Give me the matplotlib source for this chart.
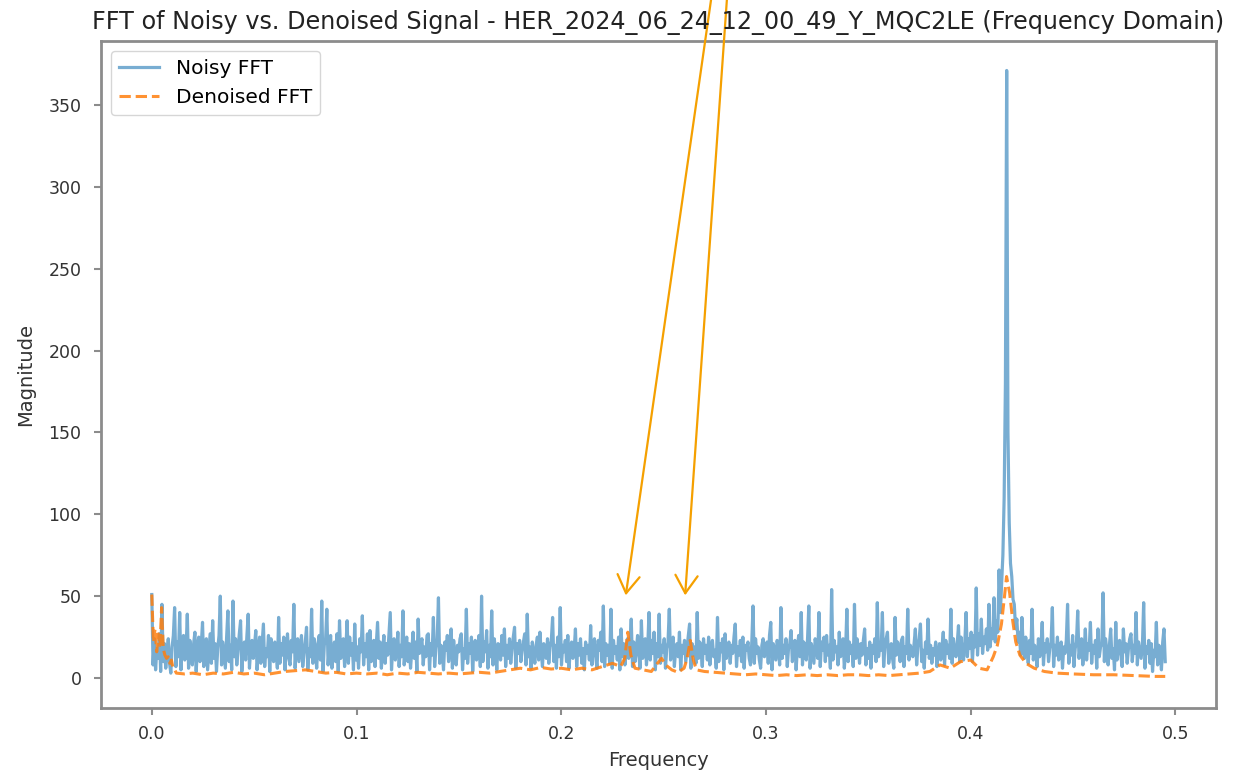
import numpy as np
import matplotlib
matplotlib.use("Agg")
import matplotlib.pyplot as plt

title = "FFT of Noisy vs. Denoised Signal - HER_2024_06_24_12_00_49_Y_MQC2LE (Frequency Domain)"
f_max = 0.495

noisy_mag = [
    51, 8, 24, 5, 18, 12, 27, 4, 45, 10, 21, 6, 16, 24, 9, 3, 19, 26, 43, 7,
    22, 13, 40, 5, 20, 26, 11, 17, 39, 6, 23, 15, 8, 21, 28, 4, 18, 25, 10, 20,
    34, 7, 19, 24, 5, 16, 27, 9, 35, 12, 21, 4, 18, 26, 50, 8, 22, 14, 6, 25,
    41, 10, 20, 5, 47, 13, 24, 8, 17, 27, 35, 4, 19, 22, 11, 26, 39, 6, 18, 23,
    12, 20, 29, 5, 16, 25, 9, 21, 33, 7, 18, 13, 26, 4, 24, 15, 10, 22, 17, 6,
    37, 9, 21, 14, 25, 5, 19, 27, 12, 8, 23, 16, 45, 6, 20, 24, 10, 18, 26, 7,
    15, 22, 31, 5, 18, 13, 42, 9, 24, 17, 6, 21, 26, 11, 47, 4, 20, 23, 42, 8,
    19, 26, 6, 15, 22, 10, 27, 4, 35, 12, 20, 24, 7, 18, 35, 9, 25, 14, 21, 5,
    33, 11, 19, 6, 24, 16, 38, 8, 21, 13, 27, 5, 29, 10, 18, 23, 7, 20, 34, 12,
    22, 6, 17, 26, 9, 21, 14, 27, 40, 5, 19, 24, 11, 16, 28, 7, 20, 13, 41, 8,
    18, 25, 10, 21, 6, 17, 28, 12, 22, 4, 36, 15, 20, 24, 8, 19, 13, 26, 27, 5,
    21, 14, 37, 7, 18, 24, 49, 9, 20, 15, 5, 22, 17, 26, 10, 19, 30, 6, 23, 13,
    8, 20, 16, 24, 27, 5, 18, 12, 42, 9, 21, 15, 25, 4, 19, 23, 11, 17, 26, 7,
    50, 10, 22, 16, 29, 6, 20, 13, 41, 8, 24, 17, 5, 21, 19, 11, 26, 14, 30, 7,
    20, 12, 24, 9, 18, 25, 31, 6, 21, 15, 23, 10, 17, 22, 27, 8, 39, 13, 19, 6,
    22, 14, 9, 20, 25, 11, 28, 16, 7, 21, 18, 12, 24, 9, 19, 23, 37, 10, 20, 6,
    25, 13, 43, 8, 20, 16, 23, 10, 26, 6, 19, 22, 12, 17, 30, 7, 21, 14, 24, 9,
    18, 5, 22, 15, 20, 11, 32, 8, 19, 24, 13, 6, 23, 17, 28, 10, 44, 7, 21, 14,
    20, 9, 42, 6, 23, 15, 19, 11, 25, 5, 30, 13, 21, 8, 18, 24, 12, 20, 36, 7,
    22, 10, 17, 26, 14, 6, 35, 12, 20, 24, 8, 19, 40, 11, 23, 15, 28, 5, 21, 13,
    39, 9, 20, 16, 24, 6, 18, 22, 42, 11, 19, 25, 7, 17, 21, 13, 28, 5, 20, 15,
    23, 10, 18, 26, 33, 6, 21, 14, 19, 9, 40, 12, 22, 17, 7, 24, 15, 20, 11, 25,
    8, 19, 23, 13, 17, 6, 37, 10, 21, 16, 24, 5, 27, 12, 18, 22, 9, 20, 15, 25,
    33, 7, 19, 14, 23, 10, 25, 6, 20, 17, 22, 12, 8, 21, 44, 9, 24, 15, 19, 11,
    6, 20, 24, 13, 18, 22, 9, 26, 34, 5, 21, 16, 11, 23, 19, 8, 43, 12, 20, 15,
    24, 7, 18, 21, 29, 10, 16, 23, 5, 19, 26, 13, 40, 8, 22, 17, 11, 24, 44, 6,
    21, 15, 9, 24, 19, 12, 40, 7, 22, 17, 25, 10, 26, 14, 20, 6, 54, 11, 23, 16,
    19, 8, 28, 13, 21, 24, 6, 17, 42, 10, 22, 15, 20, 7, 45, 12, 24, 18, 9, 21,
    14, 23, 30, 8, 18, 12, 22, 6, 20, 15, 24, 10, 46, 13, 21, 17, 40, 7, 19, 24,
    28, 9, 16, 21, 12, 6, 37, 14, 22, 18, 10, 23, 25, 7, 19, 15, 42, 11, 20, 17,
    13, 21, 30, 8, 19, 24, 33, 10, 17, 6, 22, 15, 36, 12, 20, 9, 18, 14, 22, 7,
    16, 21, 11, 19, 28, 8, 23, 15, 20, 12, 42, 9, 24, 17, 13, 21, 32, 10, 25, 16,
    11, 22, 40, 13, 24, 18, 28, 10, 26, 19, 55, 14, 27, 20, 36, 15, 25, 21, 30, 17,
    45, 19, 30, 24, 49, 22, 35, 28, 66, 40, 58, 75, 110, 180, 371, 150, 95, 70, 62, 48,
    45, 30, 36, 22, 28, 14, 37, 20, 12, 25, 18, 9, 23, 15, 42, 11, 20, 16, 7, 24,
    13, 19, 34, 8, 21, 16, 24, 10, 18, 22, 43, 7, 20, 14, 25, 11, 17, 22, 6, 19,
    15, 23, 45, 9, 20, 14, 26, 7, 18, 22, 41, 12, 19, 24, 8, 16, 30, 11, 21, 17,
    34, 9, 20, 15, 23, 6, 30, 13, 19, 21, 52, 10, 24, 16, 8, 20, 30, 12, 18, 5,
    34, 11, 19, 23, 14, 7, 30, 16, 21, 9, 18, 24, 27, 10, 20, 15, 40, 8, 22, 17,
    12, 20, 46, 6, 19, 15, 23, 9, 21, 4, 17, 13, 34, 8, 20, 16, 5, 22, 30, 10,
]
noisy_freq = np.linspace(0, f_max, len(noisy_mag))

denoised_freq = [
    0.000, 0.0008, 0.0016, 0.0024, 0.0032, 0.004, 0.0048, 0.0056, 0.0064, 0.0072,
    0.008, 0.0088, 0.0096, 0.0104, 0.0112, 0.012, 0.016, 0.02, 0.025, 0.03,
    0.035, 0.04, 0.045, 0.05, 0.055, 0.06, 0.065, 0.07, 0.075, 0.08,
    0.085, 0.09, 0.095, 0.10, 0.105, 0.11, 0.115, 0.12, 0.125, 0.13,
    0.135, 0.14, 0.145, 0.15, 0.155, 0.16, 0.165, 0.17, 0.175, 0.18,
    0.185, 0.19, 0.195, 0.20, 0.205, 0.21, 0.215, 0.22, 0.225, 0.229,
    0.231, 0.2325, 0.234, 0.236, 0.24, 0.244, 0.247, 0.249, 0.251, 0.254,
    0.257, 0.26, 0.2615, 0.263, 0.2645, 0.266, 0.27, 0.275, 0.28, 0.285,
    0.29, 0.295, 0.30, 0.305, 0.31, 0.315, 0.32, 0.325, 0.33, 0.335,
    0.34, 0.345, 0.35, 0.355, 0.36, 0.365, 0.37, 0.375, 0.38, 0.385,
    0.39, 0.395, 0.40, 0.404, 0.408, 0.411, 0.413, 0.415, 0.4165, 0.4175,
    0.419, 0.4205, 0.422, 0.424, 0.427, 0.431, 0.436, 0.442, 0.45, 0.46,
    0.47, 0.48, 0.49, 0.495,
]
denoised_mag = [
    51, 22, 30, 16, 27, 20, 43, 18, 14, 12,
    13, 9, 11, 6, 5, 3, 2.5, 3, 2, 3,
    2.5, 3.5, 2.5, 3, 2, 3, 4, 4.5, 5, 4,
    3, 3.5, 2.5, 3, 2.5, 3, 2, 3, 2.5, 3.5,
    3, 2.5, 3, 2.5, 3, 3.5, 3, 4, 5, 6,
    5, 6.5, 5.5, 6, 5, 6, 5, 7, 9, 7,
    12, 28, 14, 6, 5, 4, 9, 12, 8, 5,
    3.5, 6, 12, 23, 11, 5, 4, 3.5, 3, 2.5,
    2, 2.5, 2, 1.5, 2, 1.5, 2, 1.5, 2, 1.5,
    2, 2, 1.5, 2, 1.5, 2, 2.5, 3, 4, 8,
    6, 10, 11, 6, 5, 13, 20, 33, 50, 62,
    52, 35, 22, 14, 9, 6, 4, 3, 2.5, 2,
    2, 1.5, 1, 1,
]

arrow_targets_x = [0.2315, 0.2605]
arrow_targets_y = [50.5, 50.5]
arrow_origin = (0.5965, 1.281)  # figure fraction, above the figure

plt.rcParams['font.family'] = ['DejaVu Sans']
fig = plt.figure(figsize=(12.44, 7.71), dpi=100)
ax = fig.add_axes([0.0812, 0.0817, 0.8963, 0.8651])

ax.plot(noisy_freq, noisy_mag, color='#1f77b4', alpha=0.6, lw=2.3, label='Noisy FFT')
ax.plot(denoised_freq, denoised_mag, color='#ff7f0e', alpha=0.85, lw=2.2, ls='--', label='Denoised FFT')

ax.set_xlim(-0.0248, 0.5198)
ax.set_ylim(-18.3, 389)
ax.set_xticks([0.0, 0.1, 0.2, 0.3, 0.4, 0.5])
ax.set_yticks([0, 50, 100, 150, 200, 250, 300, 350])

for s in ax.spines.values():
    s.set_color('#8c8c8c')
    s.set_linewidth(2.0)
ax.tick_params(colors='#8c8c8c', labelcolor='#333333', labelsize=12.5, length=5, width=1.5)
ax.tick_params(axis='y', pad=9)
ax.tick_params(axis='x', pad=7)

ax.set_xlabel('Frequency', fontsize=14, color='#333333', labelpad=6)
ax.set_ylabel('Magnitude', fontsize=14, color='#333333', labelpad=10)
ax.set_title(title, fontsize=17.2, color='#222222', pad=9)

leg = ax.legend(loc='upper left', fontsize=14.5)

for tx, ty in zip(arrow_targets_x, arrow_targets_y):
    ax.annotate('', xy=(tx, ty), xycoords='data',
                xytext=arrow_origin, textcoords='figure fraction',
                annotation_clip=False,
                arrowprops=dict(arrowstyle='->,head_length=0.4,head_width=0.25',
                                color='#f5a000', lw=1.6, mutation_scale=32,
                                shrinkA=0, shrinkB=0))

fig.savefig('out.png', dpi=100)
